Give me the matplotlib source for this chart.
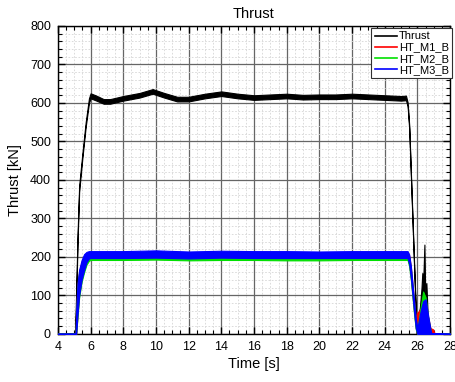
import matplotlib
matplotlib.use('Agg')
import matplotlib.pyplot as plt
from matplotlib.lines import Line2D
from matplotlib.ticker import MultipleLocator

plt.rcParams['font.family'] = ['Liberation Sans', 'DejaVu Sans']

# thrust envelope (kN)
t_thr = [4.0, 5.05, 5.1, 5.2, 5.3, 5.5, 5.7, 5.9, 6.0, 6.3,
         6.8, 7.2, 8.0, 9.0, 9.8, 10.5, 11.3, 12.0, 13.0, 14.0,
         15.0, 16.0, 17.0, 18.0, 19.0, 20.0, 21.0, 22.0, 23.0, 24.0,
         25.0, 25.3, 25.4, 25.5, 25.6, 25.7, 25.8, 25.9, 25.95, 26.05,
         26.15, 26.25, 26.3, 26.35, 26.43, 26.48, 26.55, 26.62, 26.7, 28.0]
thr_hi = [1, 1, 80, 255, 385, 470, 550, 612, 625, 620,
          610, 610, 618, 626, 636, 626, 616, 616, 624, 630,
          624, 620, 622, 624, 621, 622, 622, 624, 622, 620,
          618, 619, 602, 542, 422, 302, 182, 66, 22, 48,
          68, 118, 158, 128, 232, 108, 132, 58, 2, 1]
thr_lo = [0, 0, 50, 235, 370, 458, 538, 600, 612, 607,
          598, 598, 606, 614, 624, 614, 604, 604, 612, 618,
          612, 608, 610, 612, 609, 610, 610, 612, 610, 608,
          606, 607, 592, 532, 412, 292, 172, 54, 0, 12,
          22, 22, 32, 22, 22, 16, 16, 5, 0, 0]

t_ht = [4.0, 5.08, 5.12, 5.2, 5.3, 5.45, 5.6, 5.75, 5.9, 6.0,
        8.0, 10.0, 12.0, 14.0, 16.0, 18.0, 20.0, 22.0, 24.0, 25.4,
        25.5, 25.6, 25.7, 25.8, 25.9, 26.0, 26.2, 26.35, 26.5, 26.65,
        26.8, 26.85, 28.0]

t_m1 = t_ht[:31] + [26.95, 27.05, 28.0]
m1_hi = [1, 1, 60, 128, 162, 187, 202, 209, 211, 211,
         211, 213, 210, 212, 211, 211, 210, 211, 211, 211,
         203, 174, 128, 84, 42, 55, 65, 80, 80, 45,
         15, 12, 2, 1]
m1_lo = [0, 0, 0, 52, 102, 142, 167, 186, 197, 199,
         199, 200, 198, 200, 199, 199, 198, 199, 199, 199,
         181, 146, 101, 56, 16, 0, 0, 0, 0, 0,
         0, 0, 0, 0]

m2_hi = [1, 1, 55, 125, 160, 185, 200, 206, 207, 207,
         207, 208, 206, 207, 207, 206, 206, 207, 207, 207,
         198, 170, 125, 80, 35, 12, 70, 110, 95, 45,
         10, 2, 1]
m2_lo = [0, 0, 0, 45, 95, 135, 160, 180, 190, 192,
         192, 193, 191, 192, 192, 191, 191, 192, 192, 192,
         175, 140, 95, 50, 12, 0, 0, 0, 0, 0,
         0, 0, 0]

m3_hi = [1, 1, 62, 132, 167, 192, 207, 213, 215, 215,
         215, 217, 214, 216, 215, 215, 214, 215, 215, 215,
         206, 176, 131, 86, 41, 15, 60, 85, 90, 50,
         12, 2, 1]
m3_lo = [0, 0, 0, 50, 100, 140, 165, 186, 196, 197,
         197, 198, 196, 198, 197, 197, 197, 197, 197, 197,
         180, 145, 100, 55, 15, 0, 0, 0, 0, 0,
         0, 0, 0]

names = ['Thrust', 'HT_M1_B', 'HT_M2_B', 'HT_M3_B']
colors = ['#000000', '#ff0000', '#00e000', '#0000ff']

fig = plt.figure(figsize=(4.56, 3.82), dpi=100)
ax = fig.add_axes([0.127, 0.126, 0.86, 0.806])

series = [(t_thr, thr_lo, thr_hi), (t_m1, m1_lo, m1_hi),
          (t_ht, m2_lo, m2_hi), (t_ht, m3_lo, m3_hi)]
for (t, lo, hi), c in zip(series, colors):
    ax.fill_between(t, lo, hi, color=c, linewidth=0.8, zorder=3)

ax.set_xlim(4, 28)
ax.set_ylim(0, 800)
ax.xaxis.set_major_locator(MultipleLocator(2))
ax.xaxis.set_minor_locator(MultipleLocator(0.5))
ax.yaxis.set_major_locator(MultipleLocator(100))
ax.yaxis.set_minor_locator(MultipleLocator(20))
ax.grid(which='major', color='#666666', linewidth=0.9)
ax.grid(which='minor', color='#d6d6d6', linewidth=0.6, linestyle=(0, (2, 2)))
ax.set_axisbelow(True)
ax.tick_params(which='both', direction='in', top=True, right=True, labelsize=9)
ax.tick_params(which='major', length=5, width=1, pad=5)
ax.tick_params(which='minor', length=3, width=0.8)
for s in ax.spines.values():
    s.set_linewidth(1)

ax.set_xlabel('Time [s]', fontsize=10.5, labelpad=3)
ax.set_ylabel('Thrust [kN]', fontsize=10.5, labelpad=6)
ax.set_title('Thrust', fontsize=10.5, pad=6)

handles = [Line2D([], [], color=c, linewidth=1.2) for c in colors]
leg = ax.legend(handles, names, loc='upper right', bbox_to_anchor=(1.005, 0.993),
                borderaxespad=0, fontsize=8, handlelength=2.0, handletextpad=0.15,
                labelspacing=0.1, borderpad=0.3, fancybox=False, framealpha=1)
leg.get_frame().set_edgecolor('#303030')
leg.get_frame().set_linewidth(0.8)

fig.savefig('out.png', dpi=100)
